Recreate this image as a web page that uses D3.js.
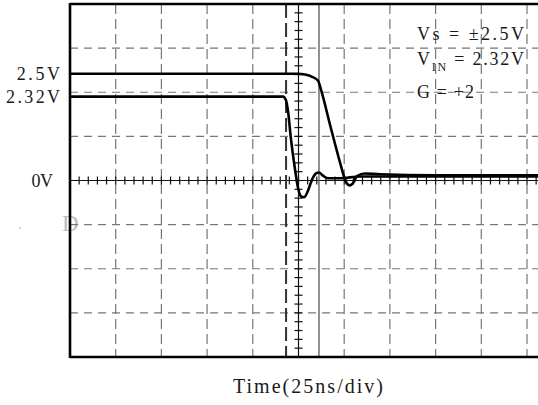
<!DOCTYPE html>
<html>
<head>
<meta charset="utf-8">
<script src="https://cdn.jsdelivr.net/npm/d3@7"></script>
<style>
  body { margin: 0; background: #fff; }
  text { font-family: "Liberation Serif", serif; fill: #1a1a1a; }
</style>
</head>
<body>
<script>
// time in ns (25 ns/div), amplitude in screen divisions
const outT = [0, 124.7, 128.6, 132.4, 135.7, 137.3, 142.2, 147.7, 149.9, 151.5, 153.2, 155.0, 157.0, 161.4, 169.6, 200, 256];
const outV = [2.42, 2.42, 2.40, 2.35, 2.26, 2.06, 1.27, 0.41, 0.09, -0.07, -0.11, -0.05, 0.10, 0.16, 0.14, 0.12, 0.12];
const inT = [0, 116.5, 118.2, 119.3, 120.9, 123.1, 124.7, 126.4, 128.0, 130.2, 132.4, 134.6, 136.2, 138.4, 141.1, 147.7, 158.6, 256];
const inV = [1.90, 1.90, 1.81, 1.56, 0.93, 0.25, -0.16, -0.36, -0.38, -0.23, 0.02, 0.16, 0.18, 0.11, 0.05, 0.05, 0.09, 0.09];
const levelTicks = [2.42, 1.90, 0];
const levelLabels = ["2.5V", "2.32V", "0V"];
const cursorDashed = 118.2;
const cursorSolid = 136.2;
const notes = ["Vs = \u00b12.5V", "V|IN| = 2.32V", "G = +2"];
const xTitle = "Time(25ns/div)";

const W = 538, H = 405;
const svg = d3.select("body").append("svg")
    .attr("width", W)
    .attr("height", H);

const x = d3.scaleLinear().domain([0, 250]).range([70, 527]);
const y = d3.scaleLinear().domain([-4, 4]).range([357, 4]);
const tMax = 256;

// faint artifacts (under the frame)
svg.append("text").attr("x", 62).attr("y", 231).attr("font-size", 23)
    .style("fill", "#bdbdbd").text("D");
svg.append("text").attr("x", 18).attr("y", 229).attr("font-size", 14)
    .style("fill", "#bbb").text(".");

// dashed grid
const grid = svg.append("g")
    .attr("stroke", "#777")
    .attr("stroke-width", 1.2)
    .attr("fill", "none");

grid.selectAll("line.v")
  .data(d3.range(25, 251, 25).filter(t => t !== 125))
  .enter().append("line")
    .attr("x1", d => x(d)).attr("x2", d => x(d))
    .attr("y1", y(4)).attr("y2", y(-4))
    .attr("stroke-dasharray", "10,5");

grid.selectAll("line.h")
  .data([3, 2, 1, -1, -2, -3])
  .enter().append("line")
    .attr("x1", x(0)).attr("x2", x(tMax))
    .attr("y1", d => y(d)).attr("y2", d => y(d))
    .attr("stroke-dasharray", "8,6");

// center axes with minor ticks
const axes = svg.append("g").attr("stroke", "#111").attr("stroke-width", 1.2);
axes.append("line")
    .attr("x1", x(0)).attr("x2", x(tMax))
    .attr("y1", y(0)).attr("y2", y(0));
axes.append("line")
    .attr("x1", x(125)).attr("x2", x(125))
    .attr("y1", y(4)).attr("y2", y(-4));
axes.selectAll("line.tx")
  .data(d3.range(5, tMax, 5))
  .enter().append("line")
    .attr("x1", d => x(d)).attr("x2", d => x(d))
    .attr("y1", y(0) - 4).attr("y2", y(0) + 4);
axes.selectAll("line.ty")
  .data(d3.range(-3.8, 4, 0.2))
  .enter().append("line")
    .attr("x1", x(125) - 4).attr("x2", x(125) + 4)
    .attr("y1", d => y(d)).attr("y2", d => y(d));

// cursors
svg.append("line")
    .attr("x1", x(cursorDashed)).attr("x2", x(cursorDashed))
    .attr("y1", y(4)).attr("y2", y(-4))
    .attr("stroke", "#333").attr("stroke-width", 2)
    .attr("stroke-dasharray", "14,5");
svg.append("line")
    .attr("x1", x(cursorSolid)).attr("x2", x(cursorSolid))
    .attr("y1", y(4)).attr("y2", y(-4))
    .attr("stroke", "#555").attr("stroke-width", 1.3);

// frame
const frame = svg.append("g").attr("stroke", "#000").attr("stroke-width", 2.6);
frame.append("line").attr("x1", x(0)).attr("x2", x(0)).attr("y1", y(4) - 1).attr("y2", y(-4) + 1);
frame.append("line").attr("x1", x(0)).attr("x2", W).attr("y1", y(4)).attr("y2", y(4));
frame.append("line").attr("x1", x(0)).attr("x2", W).attr("y1", y(-4)).attr("y2", y(-4));

// traces
const line = d3.line()
    .x(d => x(d[0]))
    .y(d => y(d[1]))
    .curve(d3.curveMonotoneX);

[[inT, inV], [outT, outV]].forEach(([ts, vs]) => {
  svg.append("path")
      .datum(ts.map((t, i) => [t, vs[i]]))
      .attr("d", line)
      .attr("fill", "none")
      .attr("stroke", "#000")
      .attr("stroke-width", 2.6)
      .attr("stroke-linejoin", "round");
});

// level labels
const labelRight = [60, 60, 53];
svg.selectAll("text.lvl")
  .data(levelTicks)
  .enter().append("text")
    .attr("x", (d, i) => labelRight[i])
    .attr("y", d => y(d) + 6)
    .attr("text-anchor", "end")
    .attr("font-size", 18)
    .attr("textLength", (d, i) => levelLabels[i].length * 10.8)
    .text((d, i) => levelLabels[i]);

// annotations
const noteY = [40, 65, 98];
const noteW = [107, 107, 57];
notes.forEach((s, i) => {
  const t = svg.append("text")
      .attr("x", 417)
      .attr("y", noteY[i])
      .attr("font-size", 18)
      .attr("textLength", noteW[i]);
  s.split("|").forEach((part, j) => {
    const sp = t.append("tspan").text(part);
    if (j === 1) sp.attr("font-size", 12).attr("dy", 6);
    if (j === 2) sp.attr("dy", -6);
  });
});

// x title
svg.append("text")
    .attr("x", 233)
    .attr("y", 393)
    .attr("font-size", 20)
    .attr("textLength", 150)
    .text(xTitle);
</script>
</body>
</html>
